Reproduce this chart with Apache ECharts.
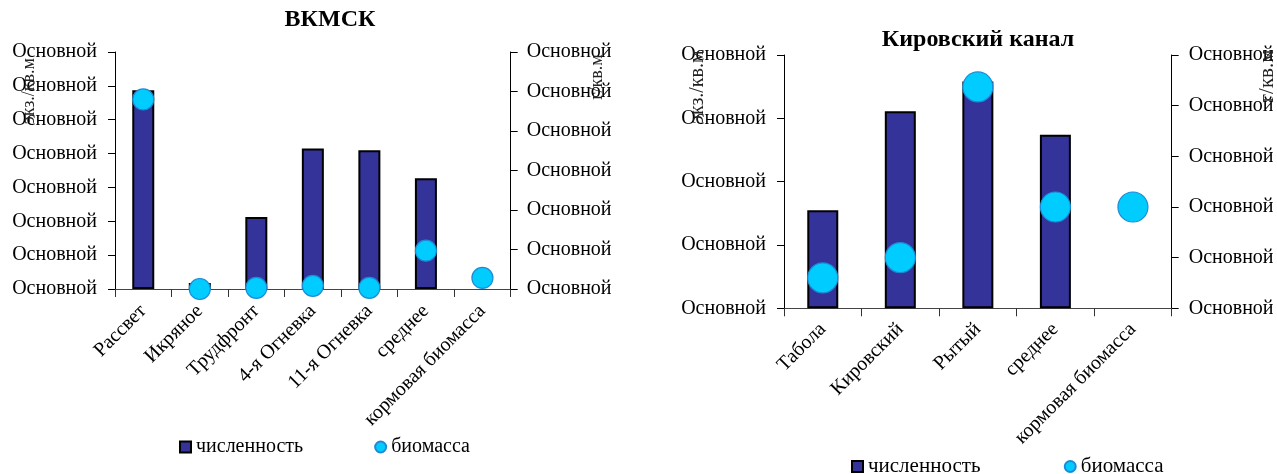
<!DOCTYPE html>
<html>
<head>
<meta charset="utf-8">
<script src="https://cdn.jsdelivr.net/npm/echarts@6/dist/echarts.min.js"></script>
<style>
  html, body { margin: 0; padding: 0; background: #fff; }
  #chart { width: 1277px; height: 474px; }
</style>
</head>
<body>
<div id="chart"></div>
<script>
// ВКМСК: stations, abundance (bars) and biomass (points)
const vkmskCategories = ['Рассвет', 'Икряное', 'Трудфронт', '4-я Огневка', '11-я Огневка', 'среднее', 'кормовая биомасса'];
const vkmskAbundance = [58.7, 1.8, 21.3, 41.5, 41.0, 32.7, null];
const vkmskBiomass = [4.8, 0, 0.03, 0.08, 0.03, 0.97, 0.28];

// Кировский канал
const kirovCategories = ['Табола', 'Кировский', 'Рытый', 'среднее', 'кормовая биомасса'];
const kirovAbundance = [15.5, 31.1, 35.8, 27.4, null];
const kirovBiomass = [0.6, 1.0, 4.37, 2.0, 2.0];

// Tick text shown on every value axis
const tickLabel = 'Основной';

const seriesNames = ['численность', 'биомасса'];
const titles = ['ВКМСК', 'Кировский канал'];
const unitLeft = 'экз./кв.м';
const unitRight = 'г/кв.м';

const FONT = 'Liberation Serif';
const BAR_FILL = '#333399';
const DOT_FILL = '#00CCFF';
const DOT_EDGE = '#1F8AD4';

function valueAxis(gridIndex, position, max, interval, margin) {
  return {
    type: 'value', gridIndex, position, min: 0, max, interval,
    splitLine: { show: false },
    axisLine: { show: true, lineStyle: { color: '#000', width: 1 } },
    axisTick: { show: true, length: 7, lineStyle: { color: '#000' } },
    axisLabel: {
      formatter: () => tickLabel, margin,
      color: '#000', fontFamily: FONT, fontSize: 20
    }
  };
}

function categoryAxis(gridIndex, data, margin) {
  return {
    type: 'category', gridIndex, data,
    axisLine: { show: true, lineStyle: { color: '#444', width: 1.2 } },
    axisTick: { show: true, length: 8, lineStyle: { color: '#333' } },
    axisLabel: {
      rotate: 45, interval: 0, margin,
      color: '#000', fontFamily: FONT, fontSize: 20
    }
  };
}

function rotatedName(text, x, y, size) {
  return {
    type: 'text', x, y, rotation: Math.PI / 2, z: 10,
    style: {
      text, x: 0, y: 0, align: 'center', verticalAlign: 'middle',
      fill: '#222', font: size + 'px "' + FONT + '"'
    }
  };
}

const chart = echarts.init(document.getElementById('chart'), null, { renderer: 'canvas' });

chart.setOption({
  animation: false,
  backgroundColor: '#fff',
  title: [
    {
      text: titles[0], left: 330, top: 8, textAlign: 'center', padding: 0,
      textStyle: { fontFamily: FONT, fontSize: 24, fontWeight: 'bold', color: '#000' }
    },
    {
      text: titles[1], left: 978, top: 28, textAlign: 'center', padding: 0,
      textStyle: { fontFamily: FONT, fontSize: 24, fontWeight: 'bold', color: '#000' }
    }
  ],
  legend: [
    {
      left: 179, top: 437, padding: 0, itemGap: 71, itemWidth: 11, itemHeight: 11,
      textStyle: { fontFamily: FONT, fontSize: 20, color: '#000' },
      data: [{ name: seriesNames[0], icon: 'rect' }, { name: seriesNames[1], icon: 'circle' }],
      selectedMode: false
    },
    {
      left: 851, top: 456, padding: 0, itemGap: 78, itemWidth: 11, itemHeight: 11,
      textStyle: { fontFamily: FONT, fontSize: 21, color: '#000' },
      data: [{ name: seriesNames[0] + ' ', icon: 'rect' }, { name: seriesNames[1] + ' ', icon: 'circle' }],
      selectedMode: false
    }
  ],
  grid: [
    { left: 115, right: 1277 - 510.7, top: 52, bottom: 474 - 289 },
    { left: 784, right: 1277 - 1171.7, top: 55, bottom: 474 - 308.3 }
  ],
  xAxis: [
    categoryAxis(0, vkmskCategories, 19),
    categoryAxis(1, kirovCategories, 18)
  ],
  yAxis: [
    valueAxis(0, 'left', 70, 10, 18),
    valueAxis(0, 'right', 6, 1, 16),
    valueAxis(1, 'left', 40, 10, 18),
    valueAxis(1, 'right', 5, 1, 17)
  ],
  series: [
    {
      name: seriesNames[0], type: 'bar', xAxisIndex: 0, yAxisIndex: 0,
      data: vkmskAbundance, barWidth: 22,
      itemStyle: { color: BAR_FILL, borderColor: '#000', borderWidth: 2 }
    },
    {
      name: seriesNames[1], type: 'scatter', xAxisIndex: 0, yAxisIndex: 1,
      data: vkmskBiomass, symbol: 'circle', symbolSize: 21, clip: false,
      itemStyle: { color: DOT_FILL, borderColor: DOT_EDGE, borderWidth: 1.2, opacity: 1 }
    },
    {
      name: seriesNames[0] + ' ', type: 'bar', xAxisIndex: 1, yAxisIndex: 2,
      data: kirovAbundance, barWidth: 31,
      itemStyle: { color: BAR_FILL, borderColor: '#000', borderWidth: 2 }
    },
    {
      name: seriesNames[1] + ' ', type: 'scatter', xAxisIndex: 1, yAxisIndex: 3,
      data: kirovBiomass, symbol: 'circle', symbolSize: 30, clip: false,
      itemStyle: { color: DOT_FILL, borderColor: DOT_EDGE, borderWidth: 1.2, opacity: 1 }
    }
  ],
  graphic: [
    rotatedName(unitLeft, 29, 91, 18),
    rotatedName(unitRight, 597, 77, 18),
    rotatedName(unitLeft, 698, 87, 20),
    rotatedName(unitRight, 1267, 76, 21),
    // lower edge of the first legend sits under the plot frame
    { type: 'rect', z: 100, shape: { x: 170, y: 454, width: 360, height: 20 }, style: { fill: '#fff' } }
  ]
});
</script>
</body>
</html>
